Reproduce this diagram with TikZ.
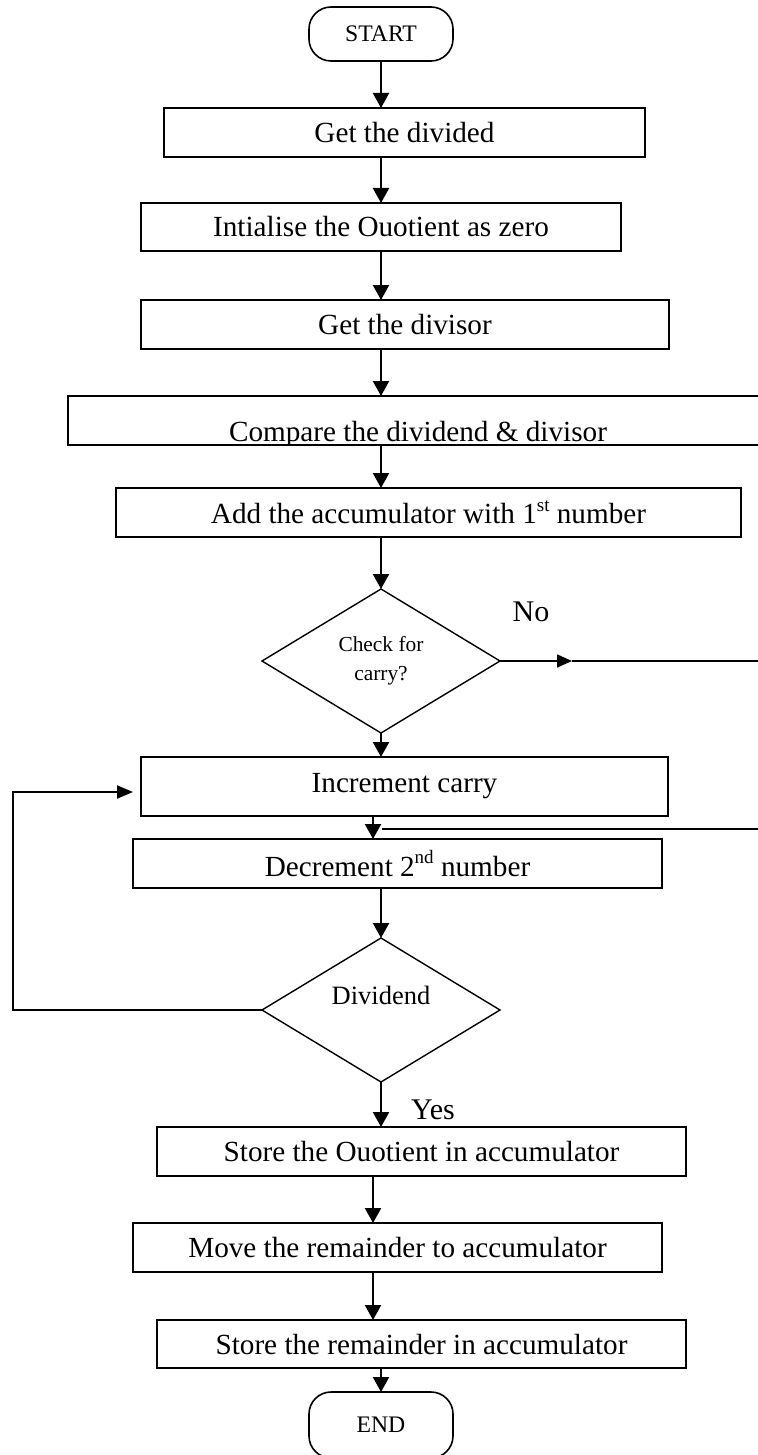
\documentclass[tikz,border=0pt]{standalone}
\usepackage{fontspec}
\setmainfont{Liberation Serif}
\usetikzlibrary{arrows.meta,shapes.geometric}

% raised ordinal suffix, as in 1st / 2nd
\newcommand{\ordsup}[1]{\raisebox{0.42em}{\fontsize{19}{19}\selectfont #1}}

\begin{document}
\begin{tikzpicture}[x=1pt,y=-1pt,
  every node/.style={inner sep=0pt, outer sep=0pt},
  txt/.style={font=\fontsize{29.2}{34}\selectfont},
  stepbox/.style={draw, line width=2.2pt, rectangle, txt},
  term/.style={draw, line width=1.6pt, rounded corners=22pt,
    minimum width=144pt, font=\fontsize{23.7}{28}\selectfont},
  decision/.style={draw, line width=1.4pt, diamond,
    minimum width=238pt, minimum height=144pt},
  conn/.style={line width=2.2pt, -{Triangle[length=15pt,width=16pt]}},
  thinline/.style={line width=1.6pt},
  answer/.style={font=\fontsize{30}{36}\selectfont},
  ]
\useasboundingbox (0,0) rectangle (757,1455);

% columns of the vertical connectors
\coordinate (col) at (381,0);
\coordinate (colB) at (373,0);
\coordinate (loopx) at (13,0);

% process steps
\node[term, minimum height=54pt] (start) at (381,34) {START};
\node[stepbox, minimum width=481pt, minimum height=49pt] (b1) at (404.5,132.5) {Get the divided};
\node[stepbox, minimum width=480pt, minimum height=48pt] (b2) at (381,227) {Intialise the Ouotient as zero};
\node[stepbox, minimum width=528pt, minimum height=49pt] (b3) at (405,324.5) {Get the divisor};
\node[stepbox, minimum width=692pt, minimum height=49pt] (b4) at (414,420.5) {};
\begin{scope}
  \clip (b4.south west) rectangle (b4.north east);
  \node[txt, anchor=base] (b4t) at (418,441) {Compare the dividend \& divisor};
\end{scope}
\node[stepbox, minimum width=625pt, minimum height=49pt] (b5) at (428.5,512.5) {Add the accumulator with 1\ordsup{st} number};
\node[decision, align=center, font=\fontsize{21.4}{29}\selectfont] (d1) at (381,661) {Check for\\carry?};
\node[stepbox, minimum width=527pt, minimum height=59pt] (inc) at (404.5,786.5) {Increment carry};
\node[stepbox, minimum width=529pt, minimum height=49pt] (dec) at (397.5,863.5) {Decrement 2\ordsup{nd} number};
\node[decision] (d2) at (381,1010) {};
\node[font=\fontsize{26.5}{30}\selectfont] (d2t) at (381,995) {Dividend};
\node[stepbox, minimum width=529pt, minimum height=49pt] (sq) at (421.5,1151.5) {Store the Ouotient in accumulator};
\node[stepbox, minimum width=529pt, minimum height=49pt] (mv) at (397.5,1247.5) {Move the remainder to accumulator};
\node[stepbox, minimum width=529pt, minimum height=48pt] (sr) at (421.5,1344) {Store the remainder in accumulator};
\node[term, minimum height=66pt] (end) at (381,1425) {END};

% branch labels
\node[answer] (no) at (531,612) {No};
\node[answer] (yes) at (433,1110) {Yes};

% main flow
\draw[conn] (start.south) -- (b1.north -| col);
\draw[conn] (b1.south -| col) -- (b2.north -| col);
\draw[conn] (b2.south -| col) -- (b3.north -| col);
\draw[conn] (b3.south -| col) -- (b4.north -| col);
\draw[conn] (b4.south -| col) -- (b5.north -| col);
\draw[conn] (b5.south -| col) -- (d1.north);
\draw[conn] (d1.south) -- (inc.north -| col);
\draw[conn] (inc.south -| colB) -- (dec.north -| colB);
\draw[conn] (dec.south -| col) -- (d2.north);
\draw[conn] (d2.south) -- (sq.north -| col);
\draw[conn] (sq.south -| colB) -- (mv.north -| colB);
\draw[conn] (mv.south -| colB) -- (sr.north -| colB);
\draw[conn] (sr.south -| col) -- (end.north);

% "No" branch, rejoining below Increment carry
\coordinate (noTip) at (572,661);
\coordinate (noOut) at (775,661);
\coordinate (noJoin) at (382,829);
\draw[thinline, -{Triangle[length=15pt,width=13pt]}] (d1.east) -- (noTip);
\draw[thinline] (noTip) -- (noOut) |- (noJoin);

% loop back from Dividend to Increment carry
\draw[line width=2pt, -{Triangle[length=16pt,width=13pt]}, shorten >=8pt]
  (d2.west) -- (d2.west -| loopx) |- ([yshift=-5.5pt]inc.west);
\end{tikzpicture}
\end{document}
